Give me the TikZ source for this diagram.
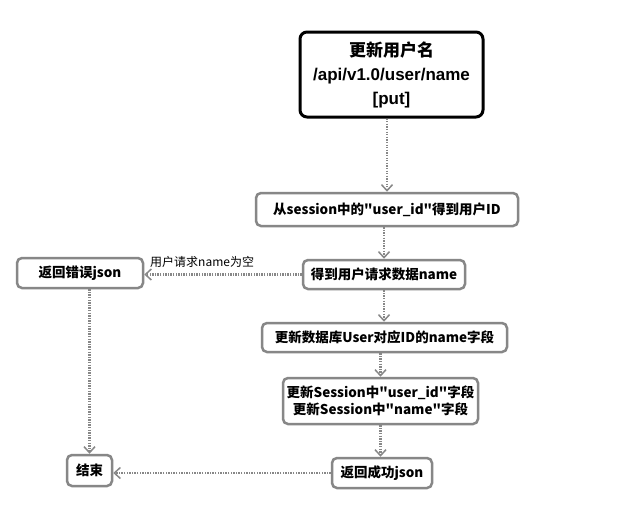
\documentclass[tikz,border=0pt]{standalone}
\usepackage{fontspec}
\newfontfamily\cjk{Noto Sans CJK SC}
\newfontfamily\lat{Liberation Sans}
\usetikzlibrary{arrows.meta}
\begin{document}
\begin{tikzpicture}[x=1pt,y=-1pt]
\useasboundingbox[fill=white] (0,0) rectangle (643,514);
\definecolor{boxgray}{RGB}{135,135,135}
\definecolor{linegray}{RGB}{135,135,135}
\tikzset{
  box/.style={draw=boxgray, line width=2.5pt, rounded corners=5pt, fill=white,
    inner sep=0pt, align=center, font=\cjk\bfseries\fontsize{13.5}{17}\selectfont},
  topbox/.style={box, draw=black, line width=3pt, rounded corners=7pt,
    font=\cjk\bfseries\fontsize{17}{24}\selectfont},
  conn/.style={draw=linegray, line width=2.4pt, dash pattern=on 1.3pt off 1.3pt,
    -{Straight Barb[length=6pt,width=11pt,line width=1.5pt]}},
  lbl/.style={font=\cjk\fontsize{12}{14}\selectfont, inner sep=0pt, anchor=south west}
}
\node[topbox, minimum width=183, minimum height=85] (top) at (391.5,74.5)
  {更新用户名\\{\lat\bfseries /api/v1.0/user/name}\\{\lat\bfseries [put]}};
\node[box, minimum width=262, minimum height=33] (b2) at (387,209.5)
  {从session中的"user\_id"得到用户ID};
\node[box, minimum width=162, minimum height=29] (b3) at (384,274.5)
  {得到用户请求数据name};
\node[box, minimum width=126, minimum height=30] (err) at (80,273)
  {返回错误json};
\node[box, minimum width=245, minimum height=29] (b4) at (384.5,337.5)
  {更新数据库User对应ID的name字段};
\node[box, minimum width=195, minimum height=46] (b5) at (380.5,401)
  {更新Session中"user\_id"字段\\更新Session中"name"字段};
\node[box, minimum width=100, minimum height=30] (ok) at (382,473)
  {返回成功json};
\node[box, minimum width=45, minimum height=31] (end) at (89.5,470.5)
  {结束};

\draw[conn] (top.south -| b2.north) -- (b2.north);
\draw[conn] (b2.south -| b3.north) -- (b3.north);
\draw[conn] (b3.south) -- (b4.north -| b3.south);
\draw[conn] (b4.south -| b5.north) -- (b5.north);
\draw[conn] (b5.south) -- (ok.north -| b5.south);
\draw[conn] (b3.west) -- (b3.west -| err.east);
\draw[conn] (err.south -| end.north) -- (end.north);
\draw[conn] (ok.west) -- (ok.west -| end.east);
\node[lbl] (cond) at (150,268) {用户请求name为空};
\end{tikzpicture}
\end{document}
